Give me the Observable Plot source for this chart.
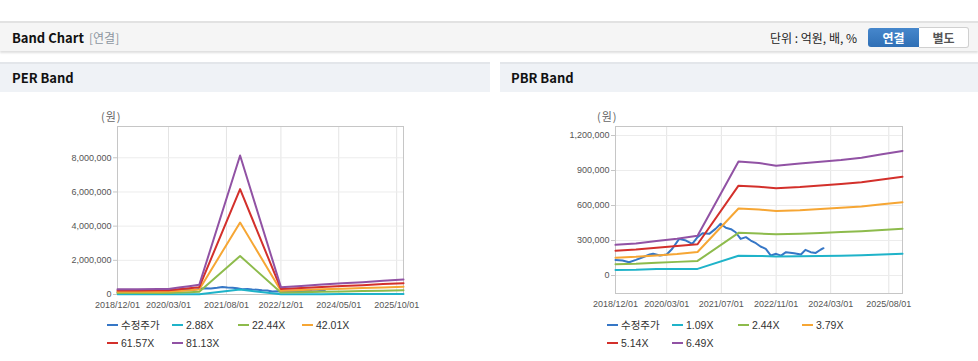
<!DOCTYPE html>
<html><head><meta charset="utf-8">
<script src="https://cdn.jsdelivr.net/npm/d3@7"></script>
<script src="https://cdn.jsdelivr.net/npm/@observablehq/plot@0.6"></script>
<style>
body{margin:0;width:978px;height:361px;position:relative;background:#fff;font-family:"Noto Sans CJK KR","Noto Sans",sans-serif;overflow:hidden}
.abs{position:absolute}
#bar{left:0;top:21px;width:978px;height:28px;border-top:2px solid #e2e2e2;background:#f5f5f5;box-shadow:0 2px 2px rgba(0,0,0,0.13)}
#title{left:12px;top:29px;font-size:13px;font-weight:bold;color:#111;line-height:18px}
#sub{left:89px;top:29px;font-size:12px;color:#8c96a0;line-height:18px}
#unit{left:770px;top:29px;font-size:12px;color:#222;line-height:18px}
#btn1{left:868px;top:28px;width:51px;height:19px;background:linear-gradient(#4687cc,#2f6fb5);border-radius:3px 0 0 3px;color:#fff;font-size:12px;font-weight:bold;text-align:center;line-height:19px}
#btn2{left:919px;top:27px;width:49px;height:19px;border:1px solid #d0d0d0;border-left:none;background:#fff;border-radius:0 3px 3px 0;color:#555;font-size:12px;font-weight:bold;text-align:center;line-height:19px}
.panel{top:62px;height:28px;border-top:2px solid #e3e6ea;background:#eff2f6}
.ptitle{top:69px;font-size:13px;font-weight:bold;color:#111;line-height:18px}
.unitlab{font-size:11px;color:#666;line-height:14px;letter-spacing:1px}
.leg{font-family:"Liberation Sans","Noto Sans CJK KR",sans-serif;font-size:10.5px;color:#333;line-height:12px;white-space:nowrap}
.sym{width:11px;height:2px}
</style>
</head><body>
<div id="bar" class="abs"></div>
<div id="title" class="abs">Band Chart</div>
<div id="sub" class="abs">[연결]</div>
<div id="unit" class="abs">단위 : 억원, 배, %</div>
<div id="btn1" class="abs">연결</div>
<div id="btn2" class="abs">별도</div>
<div class="abs panel" style="left:0;width:490px"></div>
<div class="abs panel" style="left:500px;width:478px"></div>
<div class="abs ptitle" style="left:12px">PER Band</div>
<div class="abs ptitle" style="left:511px">PBR Band</div>
<div class="abs unitlab" style="left:101px;top:109px">(원)</div>
<div class="abs unitlab" style="left:597px;top:109px">(원)</div>
<div id="perChart" class="abs" style="left:0;top:100px"></div>
<div id="pbrChart" class="abs" style="left:500px;top:100px"></div>
<div id="perLegend"></div>
<div id="pbrLegend"></div>
<script>
// ---- shared price series (수정주가) ----
const priceDates = ["2018-12-01","2019-02-01","2019-04-01","2019-06-01","2019-08-01","2019-10-01","2019-11-01","2020-01-01","2020-03-01","2020-04-20","2020-06-20","2020-08-20","2020-10-15","2020-12-01","2021-01-15","2021-03-15","2021-05-10","2021-06-25","2021-08-10","2021-09-25","2021-11-05","2021-12-20","2022-02-05","2022-03-20","2022-05-05","2022-06-15","2022-08-01","2022-09-15","2022-11-01","2022-12-15","2023-01-28","2023-04-10","2023-06-10","2023-07-20","2023-09-05","2023-10-20","2023-12-05","2023-12-28"];
const priceValues = [134000,129000,114000,134000,157000,180000,186000,171000,180000,229000,314000,300000,271000,329000,363000,357000,400000,443000,409000,397000,371000,314000,329000,300000,277000,249000,229000,171000,186000,171000,200000,191000,180000,220000,200000,194000,223000,234000];

// ---- PER band ----
const perDates = ["2018-12-01","2019-06-01","2019-12-01","2020-03-01","2020-06-01","2020-09-01","2020-12-01","2021-12-01","2022-12-01","2023-06-01","2023-12-01","2024-06-01","2024-12-01","2025-06-01","2025-12-01"];
const perLabels = ["수정주가","2.88X","22.44X","42.01X","61.57X","81.13X"];
const perBand1 = [11000,11100,11400,11700,14400,17300,20200,288600,15300,17600,20700,23300,25600,28500,31100];
const perBand2 = [85300,86400,88600,90900,112200,134600,157100,2248500,118900,136900,161600,181800,199700,222200,242400];
const perBand3 = [159600,161700,165900,170100,210100,252100,294100,4209400,222700,256300,302500,340300,373900,415900,453700];
const perBand4 = [234000,237000,243200,249400,307900,369400,431000,6169300,326300,375600,443300,498700,548000,609500,665000];
const perBand5 = [308300,312300,320500,328600,405700,486800,567900,8129200,430000,494900,584100,657200,722100,803200,876200];
const perXTicks = ["2018-12-01","2020-03-01","2021-08-01","2022-12-01","2024-05-01","2025-10-01"];
const perYTicks = [0,2000000,4000000,6000000,8000000];

// ---- PBR band ----
const pbrDates = ["2018-12-01","2019-06-01","2019-12-01","2020-06-01","2020-12-01","2021-12-01","2022-06-01","2022-11-01","2023-06-01","2023-12-01","2024-06-01","2024-12-01","2025-06-01","2025-12-01"];
const pbrLabels = ["수정주가","1.09X","2.44X","3.79X","5.14X","6.49X"];
const pbrBand1 = [47000,49000,55000,56000,57000,170000,168000,164000,165000,167000,170000,174000,180000,186000];
const pbrBand2 = [97000,101000,109000,117000,125000,366000,360000,354000,358000,365000,372000,380000,390000,401000];
const pbrBand3 = [153000,160000,172000,185000,202000,574000,565000,553000,560000,570000,580000,592000,610000,628000];
const pbrBand4 = [212000,222000,238000,252000,268000,770000,760000,748000,758000,772000,785000,800000,823000,846000];
const pbrBand5 = [263000,275000,295000,315000,340000,978000,965000,940000,960000,975000,990000,1010000,1040000,1068000];
const pbrXTicks = ["2018-12-01","2020-03-01","2021-07-01","2022-11-01","2024-03-01","2025-08-01"];
const pbrYTicks = [0,300000,600000,900000,1200000];

const colors = ["#3677c6","#1fb3c9","#8dbb4c","#f6a634","#d3302b","#9152a4"];

const P = s => new Date(s + "T00:00:00Z");
const toRows = (dates, vals) => dates.map((d, i) => ({date: P(d), value: vals[i]}));

function makeChart(opts) {
  const {width, height, mL, mR, mT, mB, yDomain, xTicks, yTicks, bands} = opts;
  const xt = xTicks.map(P);
  const series = [toRows(priceDates, priceValues), ...bands.map(b => toRows(opts.dates, b))];
  return Plot.plot({
    width, height, marginLeft: mL, marginRight: mR, marginTop: mT, marginBottom: mB,
    style: {fontFamily: "'Liberation Sans', Arial, sans-serif", fontSize: "9px", color: "#555", background: "transparent", overflow: "visible"},
    x: {type: "utc", domain: [P("2018-12-01"), P("2025-12-01")]},
    y: {domain: yDomain},
    marks: [
      Plot.gridX(xt, {stroke: "#e4e4e4", strokeOpacity: 1}),
      Plot.gridY(yTicks, {stroke: "#ececec", strokeOpacity: 1}),
      Plot.frame({stroke: "#c6c6c6"}),
      ...series.map((s, i) => Plot.line(s, {x: "date", y: "value", stroke: colors[i], strokeWidth: 2})),
      Plot.axisX(xt, {tickFormat: d3.utcFormat("%Y/%m/%d"), tickSize: 0, tickPadding: 7, label: null, fill: "#555"}),
      Plot.axisY(yTicks, {tickFormat: d3.format(","), tickSize: 4, tickPadding: 2, label: null, stroke: "#c6c6c6", fill: "#555"})
    ]
  });
}

document.getElementById("perChart").appendChild(makeChart({
  width: 490, height: 220, mL: 117, mR: 87, mT: 26, mB: 26,
  yDomain: [0, 9830000], xTicks: perXTicks, yTicks: perYTicks, dates: perDates,
  bands: [perBand1, perBand2, perBand3, perBand4, perBand5]
}));
document.getElementById("pbrChart").appendChild(makeChart({
  width: 478, height: 220, mL: 115, mR: 76, mT: 26, mB: 27,
  yDomain: [-154000, 1277000], xTicks: pbrXTicks, yTicks: pbrYTicks, dates: pbrDates,
  bands: [pbrBand1, pbrBand2, pbrBand3, pbrBand4, pbrBand5]
}));

function legend(id, labels, x0) {
  const el = document.getElementById(id);
  const cols = [0, 65, 131, 195];
  labels.forEach((lab, i) => {
    const r = Math.floor(i / 4), c = i % 4;
    const y = 325 + r * 18;
    const sym = document.createElement("div");
    sym.className = "abs sym";
    sym.style.left = (x0 + cols[c]) + "px";
    sym.style.top = (y - 1) + "px";
    sym.style.background = colors[i];
    el.appendChild(sym);
    const t = document.createElement("div");
    t.className = "abs leg";
    t.style.left = (x0 + cols[c] + 14) + "px";
    t.style.top = (y - 6) + "px";
    t.textContent = lab;
    el.appendChild(t);
  });
}
legend("perLegend", perLabels, 107);
legend("pbrLegend", pbrLabels, 607);
</script>
</body></html>
